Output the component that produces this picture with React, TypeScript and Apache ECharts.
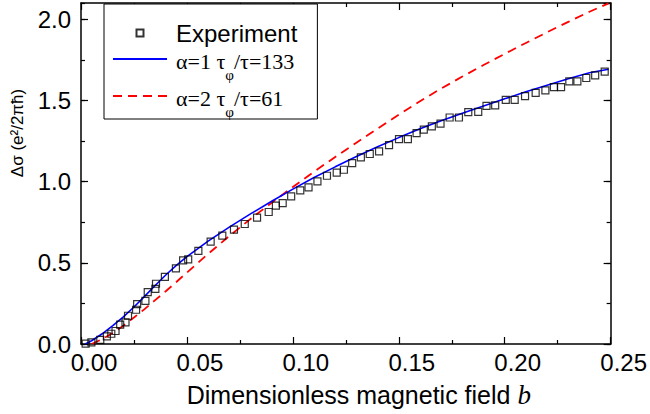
import { useEffect, useRef } from "react";
import * as echarts from "echarts";

// Experimental points (dimensionless field b, Δσ)
const expB = [
  0.0022, 0.0049, 0.0091, 0.0122, 0.0143, 0.0163, 0.0185, 0.021, 0.0222, 0.026,
  0.0265, 0.0304, 0.0315, 0.0351, 0.0354, 0.0396, 0.0448, 0.0482, 0.0506, 0.0554,
  0.0612, 0.0667, 0.0722, 0.0773, 0.0831, 0.0886, 0.092, 0.0952, 0.0992, 0.1035,
  0.1074, 0.1116, 0.1161, 0.1207, 0.1241, 0.128, 0.1321, 0.1363, 0.1407, 0.1454,
  0.1501, 0.1543, 0.1584, 0.1618, 0.1656, 0.1697, 0.174, 0.1784, 0.1828, 0.1875,
  0.1914, 0.1955, 0.2005, 0.2047, 0.2096, 0.2146, 0.2192, 0.2232, 0.2266, 0.2305,
  0.2343, 0.2385, 0.2427, 0.2472,
];
const expSigma = [
  0.002, 0.01, 0.026, 0.047, 0.063, 0.08, 0.119, 0.133, 0.174, 0.211,
  0.246, 0.265, 0.32, 0.339, 0.371, 0.413, 0.466, 0.515, 0.521, 0.574,
  0.63, 0.667, 0.704, 0.739, 0.778, 0.813, 0.852, 0.868, 0.909, 0.946,
  0.964, 1.001, 1.036, 1.055, 1.073, 1.114, 1.149, 1.17, 1.186, 1.225,
  1.262, 1.262, 1.299, 1.32, 1.34, 1.357, 1.395, 1.395, 1.428, 1.43,
  1.467, 1.469, 1.504, 1.504, 1.527, 1.546, 1.562, 1.582, 1.582, 1.617,
  1.617, 1.638, 1.654, 1.677,
];

// Theory, α=1, τφ/τ=133
const alpha1B = [
  0.002, 0.005, 0.01, 0.015, 0.02, 0.025, 0.03, 0.035, 0.04, 0.045, 0.05,
  0.06, 0.07, 0.08, 0.09, 0.1, 0.11, 0.12, 0.13, 0.14, 0.15, 0.16, 0.17,
  0.18, 0.19, 0.2, 0.21, 0.22, 0.23, 0.24, 0.249,
];
const alpha1Sigma = [
  0.0, 0.02, 0.063, 0.113, 0.167, 0.228, 0.293, 0.36, 0.425, 0.484, 0.538,
  0.634, 0.72, 0.801, 0.879, 0.954, 1.025, 1.091, 1.155, 1.215, 1.271, 1.325, 1.375,
  1.421, 1.466, 1.51, 1.553, 1.594, 1.633, 1.67, 1.692,
];

// Theory, α=2, τφ/τ=61
const alpha2B = [
  0.005, 0.01, 0.015, 0.02, 0.025, 0.03, 0.035, 0.04, 0.045, 0.05, 0.06,
  0.07, 0.08, 0.09, 0.1, 0.11, 0.12, 0.13, 0.14, 0.15, 0.16, 0.17, 0.18,
  0.19, 0.2, 0.21, 0.22, 0.23, 0.24, 0.249,
];
const alpha2Sigma = [
  0.0, 0.03, 0.068, 0.113, 0.163, 0.215, 0.27, 0.325, 0.382, 0.44, 0.555,
  0.665, 0.77, 0.87, 0.967, 1.061, 1.152, 1.24, 1.327, 1.412, 1.495, 1.573, 1.647,
  1.718, 1.787, 1.854, 1.92, 1.984, 2.046, 2.098,
];

const seriesNames = ["Experiment", "α=1 τφ/τ=133", "α=2 τφ/τ=61"];
const legendRich: Record<string, string> = {
  "Experiment": "Experiment",
  "α=1 τφ/τ=133": "{a|α=1 τ}{s|φ}{a|/τ=133}",
  "α=2 τφ/τ=61": "{a|α=2 τ}{s|φ}{a|/τ=61}",
};
const yTitle = "Δσ (e²/2πħ)";
const xTitle = "Dimensionless magnetic field {b|b}";

const SANS = "'Liberation Sans', Arial, sans-serif";
const SERIF = "'Liberation Serif', 'Times New Roman', serif";

function zip(xs: number[], ys: number[]) {
  return xs.map((x, i) => [x, ys[i]]);
}

export default function App() {
  const ref = useRef<HTMLDivElement>(null);

  useEffect(() => {
    if (!ref.current) return;
    const chart = echarts.init(ref.current, null, { renderer: "svg" });

    const lineStyle = { color: "#000", width: 1.5 };
    const tickStyle = { color: "#000", width: 1.2 };

    const xBase = {
      type: "value",
      min: 0,
      max: 0.25,
      interval: 0.05,
      splitLine: { show: false },
      axisLine: { show: true, onZero: false, lineStyle },
      axisTick: { show: true, inside: true, length: 7, lineStyle: tickStyle },
      minorTick: { show: true, splitNumber: 2, length: 4, lineStyle: tickStyle },
    };
    const yMajor = {
      type: "value",
      min: 0,
      max: 2.1,
      interval: 0.5,
      splitLine: { show: false },
      axisLine: { show: true, onZero: false, lineStyle },
      axisTick: { show: true, inside: true, length: 7, lineStyle: tickStyle },
    };
    const yMinor = {
      type: "value",
      min: 0,
      max: 2.1,
      interval: 0.25,
      splitLine: { show: false },
      axisLine: { show: false, onZero: false },
      axisTick: { show: true, inside: true, length: 4, lineStyle: tickStyle },
      axisLabel: { show: false },
    };

    chart.setOption({
      animation: false,
      backgroundColor: "#fff",
      grid: { left: 81, right: 38, top: 3, bottom: 70, containLabel: false },
      xAxis: [
        {
          ...xBase,
          position: "bottom",
          name: xTitle,
          nameLocation: "middle",
          nameGap: 37,
          nameTextStyle: {
            fontFamily: SANS,
            fontSize: 25,
            color: "#000",
            padding: [0, 0, 0, 26],
            rich: {
              b: { fontFamily: SERIF, fontStyle: "italic", fontSize: 27, color: "#000" },
            },
          },
          axisLabel: {
            show: true,
            margin: 6,
            fontFamily: SANS,
            fontSize: 24,
            color: "#000",
            padding: [0, 0, 0, 26],
            formatter: (v: number) => v.toFixed(2),
          },
        },
        { ...xBase, position: "top", axisLabel: { show: false } },
      ],
      yAxis: [
        {
          ...yMajor,
          position: "left",
          axisLabel: {
            show: true,
            margin: 10,
            fontFamily: SANS,
            fontSize: 24,
            color: "#000",
            showMaxLabel: false,
            formatter: (v: number) => (Math.abs(v * 2 - Math.round(v * 2)) < 1e-6 ? v.toFixed(1) : ""),
          },
        },
        { ...yMinor, position: "left" },
        { ...yMajor, position: "right", axisLabel: { show: false } },
        { ...yMinor, position: "right" },
      ],
      graphic: [
        {
          type: "text",
          x: 17,
          y: 133,
          rotation: Math.PI / 2,
          style: {
            text: yTitle,
            align: "center",
            verticalAlign: "middle",
            fontFamily: SANS,
            fontSize: 17,
            fill: "#000",
          },
        },
      ],
      legend: {
        left: 104,
        top: 4,
        orient: "vertical",
        align: "left",
        backgroundColor: "#fff",
        borderColor: "#000",
        borderWidth: 1,
        borderRadius: 0,
        padding: [17, 20, 0, 8],
        itemWidth: 54,
        itemHeight: 7,
        itemGap: 1,
        symbolKeepAspect: true,
        data: [
          { name: seriesNames[0], icon: "path://M0,0L10,0L10,10L0,10Z" },
          { name: seriesNames[1], itemStyle: { opacity: 0, color: "transparent", borderWidth: 0 } },
          { name: seriesNames[2], itemStyle: { opacity: 0, color: "transparent", borderWidth: 0 } },
        ],
        formatter: (name: string) => legendRich[name] ?? name,
        textStyle: {
          fontFamily: SANS,
          fontSize: 24,
          lineHeight: 24,
          color: "#000",
          padding: [0, 0, 0, 4],
          rich: {
            a: {
              fontFamily: SERIF,
              fontSize: 22,
              lineHeight: 26,
              color: "#000",
              padding: [4, 0, 0, 0],
              verticalAlign: "top",
            },
            s: {
              fontFamily: SERIF,
              fontSize: 15,
              lineHeight: 15,
              color: "#000",
              padding: [21, 0, 0, 0],
              verticalAlign: "top",
            },
          },
        },
      },
      series: [
        {
          name: seriesNames[0],
          type: "scatter",
          xAxisIndex: 0,
          yAxisIndex: 0,
          symbol: "rect",
          symbolSize: 7,
          z: 5,
          itemStyle: { color: "transparent", borderColor: "#000", borderWidth: 1.2 },
          data: zip(expB, expSigma),
        },
        {
          name: seriesNames[1],
          type: "line",
          xAxisIndex: 0,
          yAxisIndex: 0,
          symbol: "none",
          smooth: false,
          lineStyle: { color: "#0000ff", width: 1.6 },
          itemStyle: { color: "#0000ff" },
          z: 3,
          data: zip(alpha1B, alpha1Sigma),
        },
        {
          name: seriesNames[2],
          type: "line",
          xAxisIndex: 0,
          yAxisIndex: 0,
          symbol: "none",
          smooth: false,
          lineStyle: { color: "#ff0000", width: 1.8, type: [9, 6] },
          itemStyle: { color: "#ff0000" },
          z: 2,
          data: zip(alpha2B, alpha2Sigma),
        },
      ],
    });

    return () => chart.dispose();
  }, []);

  return (
    <div
      ref={ref}
      style={{ position: "fixed", left: 0, top: 0, width: 650, height: 414, background: "#fff" }}
    />
  );
}
